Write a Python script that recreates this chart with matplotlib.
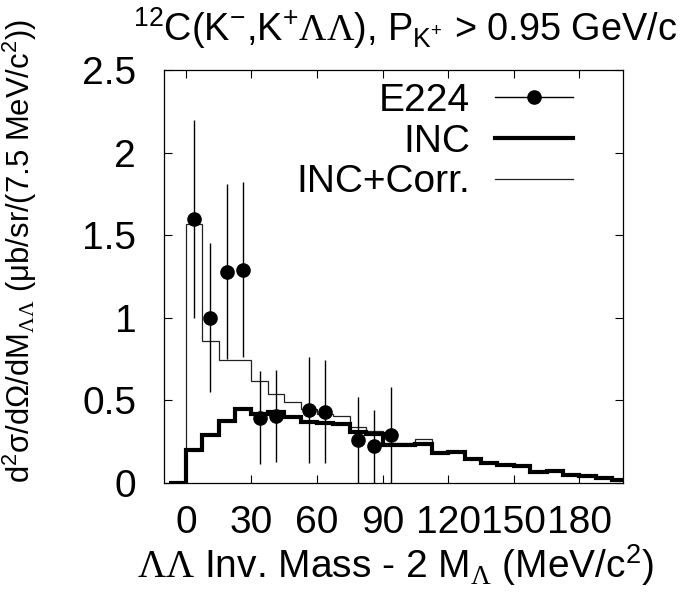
import numpy as np
import matplotlib
matplotlib.use("Agg")
import matplotlib.pyplot as plt
from matplotlib.lines import Line2D

plt.rcParams['font.family'] = ['Liberation Sans', 'DejaVu Sans']
plt.rcParams['mathtext.fontset'] = 'custom'
plt.rcParams['mathtext.rm'] = 'Liberation Sans'
plt.rcParams['mathtext.it'] = 'Liberation Sans'
plt.rcParams['mathtext.tt'] = 'Liberation Serif'
plt.rcParams['mathtext.default'] = 'regular'

# ---- data ----
bin_edges = [-7.5, 0.0, 7.5, 15.0, 22.5, 30.0, 37.5, 45.0, 52.5, 60.0, 67.5,
             75.0, 82.5, 90.0, 97.5, 105.0, 112.5, 120.0, 127.5, 135.0, 142.5,
             150.0, 157.5, 165.0, 172.5, 180.0, 187.5, 195.0, 202.5]
inc = [0.0, 0.20, 0.29, 0.375, 0.45, 0.42, 0.43, 0.40, 0.37, 0.365, 0.357,
       0.31, 0.297, 0.232, 0.233, 0.236, 0.184, 0.19, 0.147, 0.123, 0.109,
       0.101, 0.065, 0.073, 0.05, 0.042, 0.028, 0.02]
inc_corr = [0.0, 1.57, 0.862, 0.743, 0.743, 0.618, 0.537, 0.493, 0.45, 0.42,
            0.406, 0.341, 0.317, 0.24, 0.24, 0.265, 0.184, 0.19, 0.147, 0.123,
            0.109, 0.101, 0.065, 0.073, 0.05, 0.042, 0.028, 0.02]
e224_x = [3.75, 11.25, 18.75, 26.25, 33.75, 41.25, 56.25, 63.75, 78.75, 86.25, 93.75]
e224_y = [1.60, 1.00, 1.28, 1.29, 0.396, 0.406, 0.442, 0.432, 0.26, 0.222, 0.293]
e224_err = [0.60, 0.45, 0.53, 0.53, 0.28, 0.28, 0.32, 0.31, 0.26, 0.22, 0.29]
xticks = [0, 30, 60, 90, 120, 150, 180]
yticks = [0, 0.5, 1, 1.5, 2, 2.5]
ytick_labels = ['0', '0.5', '1', '1.5', '2', '2.5']

FS = 28
fig = plt.figure(figsize=(6.83, 5.94), dpi=100)
ax = fig.add_axes([164/683, 1-483/594, (623-164)/683, (483-70)/594])

ax.stairs(inc_corr, bin_edges, color='#222222', lw=0.9, zorder=2)
ax.stairs(inc, bin_edges, color='black', lw=3.0, zorder=3)
ax.errorbar(e224_x, e224_y, yerr=e224_err, fmt='o', color='black',
            ms=9.5, elinewidth=1.0, capsize=0, zorder=4)

ax.set_xlim(-10, 200)
ax.set_ylim(0, 2.5)
ax.set_xticks(xticks)
ax.set_xticklabels([str(t) for t in xticks])
ax.set_yticks(yticks)
ax.set_yticklabels(ytick_labels)
ax.tick_params(direction='in', length=6, width=0.8, top=True, right=True,
               labelsize=FS, pad=20)
ax.tick_params(axis='x', pad=16)
for s in ax.spines.values():
    s.set_linewidth(0.9)

handles = [Line2D([], [], color='black', lw=1.0, marker='o', ms=9.5),
           Line2D([], [], color='black', lw=3.0),
           Line2D([], [], color='#222222', lw=0.9)]
ax.legend(handles, ['E224', 'INC', 'INC+Corr.'], loc='upper right',
          frameon=False, markerfirst=False, fontsize=FS, handlelength=2.0,
          handletextpad=0.65, labelspacing=0.12, borderpad=0.0,
          borderaxespad=0.0,
          bbox_to_anchor=(1 - 50/459, 1 - 13/413))

fig.text(405/683, 1 - 5/594,
         r"$^{12}$C(K$^{-}$,K$^{+}$$\mathtt{ΛΛ}$), P$_{K^{+}}$ > 0.95 GeV/c",
         ha='center', va='top', fontsize=27.3)
fig.text(395/683, 1 - 565/594,
         r"$\mathtt{ΛΛ}$ Inv. Mass - 2 M$_{\mathtt{Λ}}$ (MeV/c$^{2}$)",
         ha='center', va='center', fontsize=FS)
fig.text(20/683, 1 - 251/594,
         r"d$^{2}$σ/dΩ/dM$_{\mathtt{ΛΛ}}$ (μb/sr/(7.5 MeV/c$^{2}$))",
         ha='center', va='center', rotation=90, fontsize=22.3)

fig.savefig('out.png', dpi=100)
